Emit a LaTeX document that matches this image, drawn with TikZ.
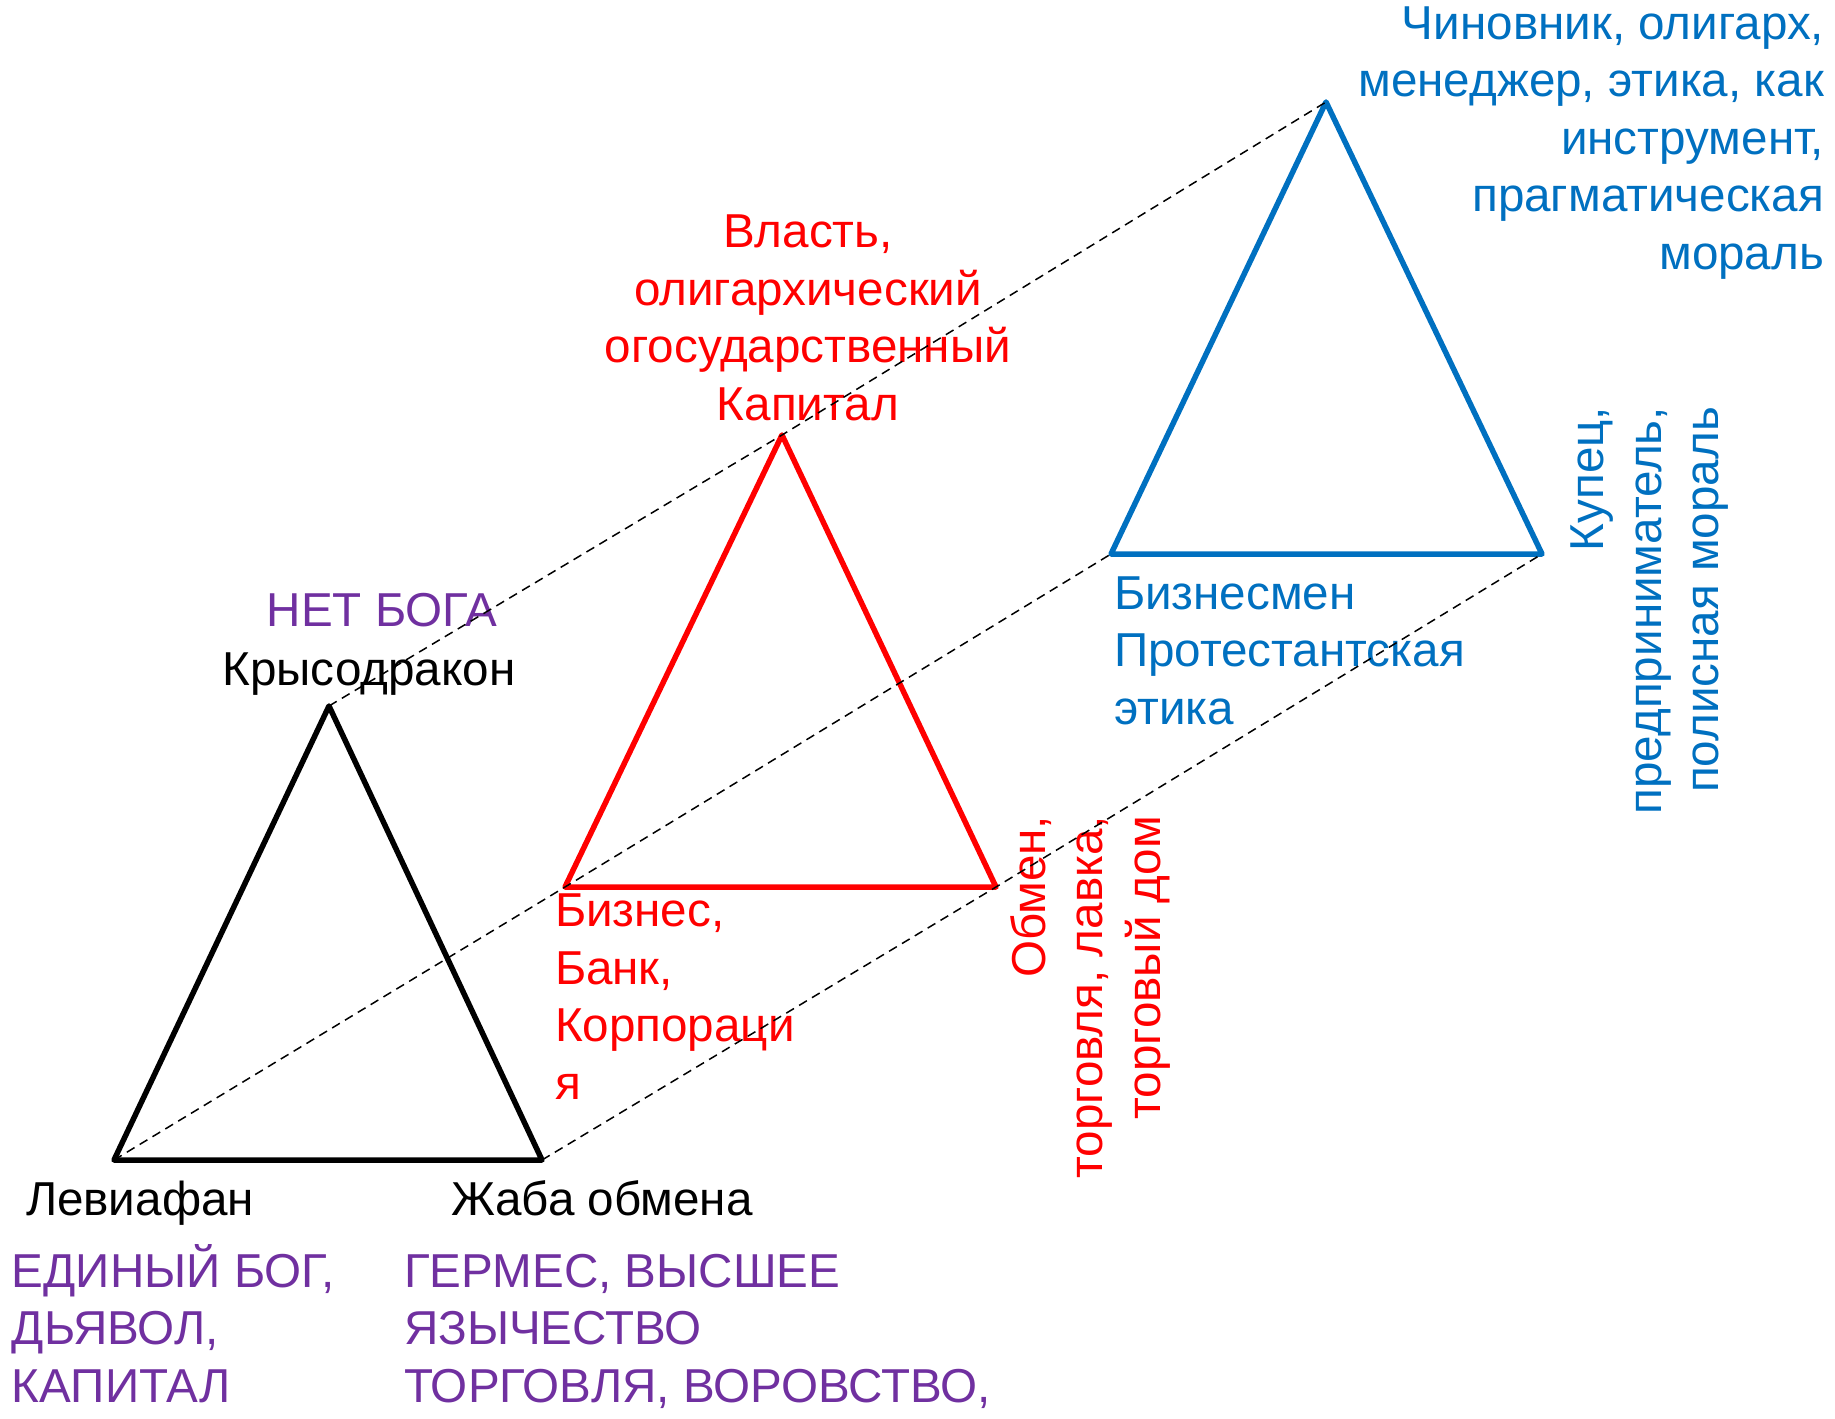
\documentclass[tikz,border=0pt]{standalone}
\usepackage{fontspec}
\setmainfont{Liberation Sans}
\definecolor{pptred}{HTML}{FF0000}
\definecolor{pptblue}{HTML}{0070C0}
\definecolor{pptpurple}{HTML}{7030A0}
\begin{document}
\begin{tikzpicture}[x=1pt,y=-1pt,
  tri/.style={line width=5.5pt, line join=round},
  link/.style={line width=1.5pt, dash pattern=on 9pt off 6pt},
  lbl/.style={inner sep=0pt, outer sep=0pt, font=\fontsize{47.6}{57.5}\selectfont}]
\useasboundingbox (0,0) rectangle (1835,1418);
% vertices
\coordinate (bA) at (329,706);  \coordinate (bL) at (114,1160); \coordinate (bR) at (542,1160);
\coordinate (rA) at (782,435);  \coordinate (rL) at (565,887);  \coordinate (rR) at (996,887);
\coordinate (uA) at (1326,102); \coordinate (uL) at (1111,554); \coordinate (uR) at (1542,554);
% triangles
\draw[tri, black]  (bA) -- (bL) -- (bR) -- cycle;
\draw[tri, pptred] (rA) -- (rL) -- (rR) -- cycle;
\draw[tri, pptblue](uA) -- (uL) -- (uR) -- cycle;
% black triangle labels
\node[lbl, text=pptpurple, anchor=base] (netboga) at (382,626) {НЕТ БОГА};
\node[lbl, anchor=base] (krys) at (369,685) {Крысодракон};
\node[lbl, anchor=base west] (lev) at (26,1215) {Левиафан};
\node[lbl, anchor=base west] (zhaba) at (451,1215) {Жаба обмена};
\node[lbl, text=pptpurple, anchor=base west, align=left] (edin) at (12,1402) {ЕДИНЫЙ БОГ,\\ДЬЯВОЛ,\\КАПИТАЛ};
\node[lbl, text=pptpurple, anchor=base west, align=left] (germ) at (404,1402) {ГЕРМЕС, ВЫСШЕЕ\\ЯЗЫЧЕСТВО\\ТОРГОВЛЯ, ВОРОВСТВО,};
% red triangle labels
\node[lbl, text=pptred, anchor=base, align=center] (vlast) at (808,420) {Власть,\\олигархический\\огосударственный\\Капитал};
\node[lbl, text=pptred, anchor=base west, align=left] (biz) at (555,1099) {Бизнес,\\Банк,\\Корпораци\\я};
\node[lbl, text=pptred, align=right, rotate=90, anchor=east] (obmen) at (1090,816) {Обмен,\\торговля, лавка,\\торговый дом};
% blue triangle labels
\node[lbl, text=pptblue, anchor=base east, align=right] (chin) at (1824,269) {Чиновник, олигарх,\\менеджер, этика, как\\инструмент,\\прагматическая\\мораль};
\node[lbl, text=pptblue, anchor=base west, align=left] (bizm) at (1114,724) {Бизнесмен\\Протестантская\\этика};
\node[lbl, text=pptblue, align=right, rotate=90, anchor=east] (kupec) at (1650,407) {Купец,\\предприниматель,\\полисная мораль};
% dashed links
\draw[link] (bA) -- (rA) -- (uA);
\draw[link] (bL) -- (rL) -- (uL);
\draw[link] (bR) -- (rR) -- (uR);
\end{tikzpicture}
\end{document}
